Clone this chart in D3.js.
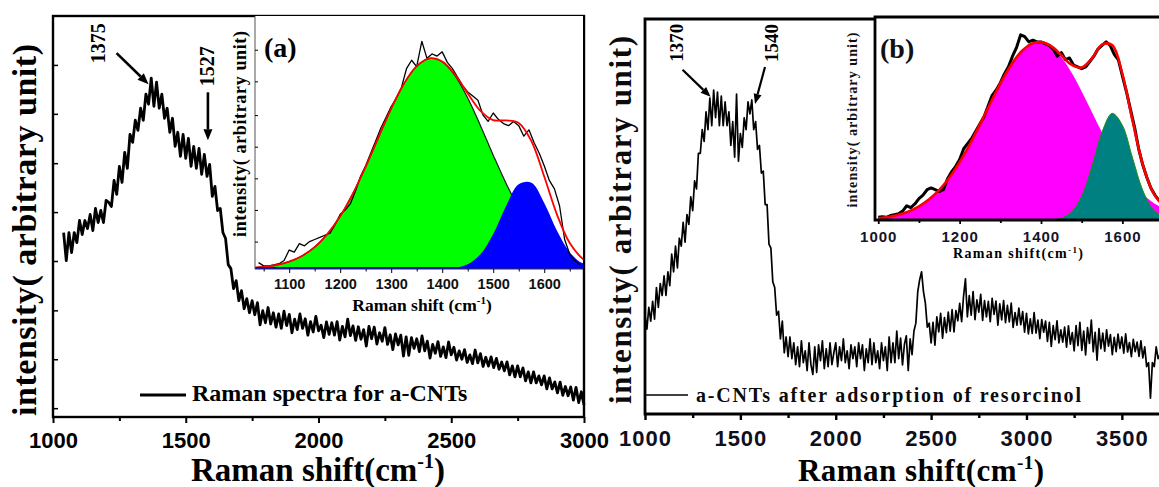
<!DOCTYPE html>
<html>
<head>
<meta charset="utf-8">
<script src="https://cdn.jsdelivr.net/npm/d3@7"></script>
<style>
  body { margin: 0; background: #fff; }
  svg { display: block; }
</style>
</head>
<body>
<svg id="chart" width="1159" height="487"></svg>
<script>
// ---------- Raman spectrum of a-CNTs (left panel), sampled every 10 cm-1 from 1040 ----------
const specAStart = 1040, specAStep = 10;
const specAValues = [
  46, 39, 46, 41, 46, 43.5, 49, 45.5, 49, 47,
  50.5, 46.5, 52, 48.5, 51.5, 48.5, 54, 53.5, 52.5, 59,
  55.5, 62.5, 58.5, 66, 62, 70.5, 68.5, 74, 71.5, 77,
  74, 80.5, 78, 84.5, 77.5, 83.5, 77, 80.5, 74.5, 77,
  71, 74.5, 67.5, 71, 65, 70.5, 64.5, 69.5, 62.5, 67.5,
  62, 67, 60.5, 65.5, 60, 63, 55, 57.5, 51.5, 52,
  46, 44.5, 38, 37, 32, 34, 29, 31.5, 27, 29.5,
  26, 29, 25.5, 28.5, 23, 26.5, 23.5, 27.3, 23.2, 26,
  22.4, 25.7, 22.1, 26.4, 22.8, 25.6, 21, 24.4, 21.8, 25.7,
  22.1, 24.5, 20.4, 23.8, 21.2, 25.1, 21.5, 22.9, 19.8, 23.7,
  20.6, 23.5, 20.4, 23.8, 19.2, 22.6, 20, 24.4, 20.3, 22.7,
  19.1, 22.5, 19.4, 21.8, 17.7, 22.6, 19.5, 22.4, 18.2, 21,
  18.9, 22.3, 18.1, 20.5, 16.8, 20.7, 18, 20.4, 15.2, 20,
  15.4, 19.8, 17.1, 19.5, 16.3, 20.2, 16.5, 18.9, 14.7, 18.1,
  15.9, 18.8, 15.1, 17.5, 14.8, 18.7, 15.5, 17.4, 14.2, 16.5,
  14.4, 16.8, 13.6, 15.5, 13.3, 16.7, 13.5, 15.8, 12.6, 14.9,
  12.7, 15, 12.3, 14.6, 11.9, 13.7, 11.5, 13.75, 10.5, 12.75,
  10, 12.75, 10, 12.25, 9, 11.25, 8.5, 11.25, 8.5, 10.25,
  8, 10.25, 7, 9.75, 7, 8.75, 6, 8.7, 5.4, 7.6,
  5.3, 7.5, 4.2, 7.4, 3.6, 6.3, 3
];

// ---------- Raman spectrum after resorcinol adsorption (right panel), every 10 cm-1 from 1000 ----------
const specBStart = 1000, specBStep = 10;
const specBValues = [
  25, 21.5, 27, 23.5, 28.5, 24, 32, 27, 33, 30,
  35, 30, 36, 32.5, 40.5, 36, 42.5, 37, 44.5, 42.5,
  48.5, 43.5, 50.5, 48, 55, 51.5, 59, 57, 66, 66,
  72, 69, 76.5, 72, 80, 73, 82, 75, 81.5, 73,
  80.5, 73, 79, 73, 76.5, 68, 74, 65, 81, 64,
  71, 67.5, 75, 72, 79, 76, 79.5, 72, 74, 67,
  68, 61, 61.5, 53, 53, 43, 42, 33.5, 32, 25,
  26, 19, 23.5, 15.5, 19.5, 14.5, 19.5, 14, 18, 12.5,
  17, 12, 18.5, 13, 16, 11, 18, 12.5, 10, 17,
  10.5, 17.5, 13.5, 18.5, 11.5, 16.5, 12, 18, 12.5, 15.5,
  18, 12, 17, 13.5, 19, 13, 16, 11.5, 17.5, 14,
  17, 12, 18, 14, 17.5, 11, 16.5, 13, 19, 12.5,
  18, 13, 16, 11.5, 18, 13.5, 17, 11, 19.5, 13,
  18, 13, 21, 14, 19.2, 12.4, 17.6, 19.8, 11, 19,
  15, 21, 23, 31, 34, 36, 31, 28, 22, 23,
  18, 23.2, 17.4, 24.6, 20.8, 25.5, 19.2, 24.4, 20.6, 25.8,
  21, 26.4, 20.8, 26.2, 23.6, 28, 23.4, 29.8, 34.2, 24.6,
  30, 25, 31, 23.9, 28.9, 25.8, 30.3, 23.7, 28.7, 24.6,
  28.5, 23.4, 29.3, 25.2, 28.6, 22.5, 27.9, 23.8, 28.7, 23.1,
  27.5, 23.3, 28.1, 21.9, 25.7, 22.5, 26.8, 22.6, 25.9, 20.7,
  25.5, 20.3, 24.1, 20.4, 25.7, 20.5, 23.8, 19.1, 23.9, 20.7,
  23.5, 18.4, 23.2, 17.1, 22.4, 18.8, 23.6, 18, 21.3, 18.2,
  22, 16.9, 22.3, 17.7, 20.6, 16, 22.4, 17.3, 23.2, 16.1,
  21, 14.95, 21.9, 17.85, 23.8, 15.75, 20.7, 13.65, 21.6, 16.55,
  20.5, 15.9, 21.3, 17.2, 20.1, 15, 19.4, 15.8, 20.2, 16.6,
  19.5, 15.4, 20.3, 15.7, 18.1, 14.5, 18.9, 15.8, 18.2, 14.6,
  18.5, 14.2, 17, 12, 13, 4, 13, 12, 17, 14, 15
];

// ---------- Inset (a): D/G band deconvolution ----------
const insetARawStart = 1040, insetARawStep = 10;
const insetARaw = [
  3, 1.5, 1.5, 2, 2.5, 4, 9, 8, 12, 11,
  13, 14, 15, 16, 17, 21, 26, 28, 31, 37,
  44, 49, 55, 61, 67, 72, 77, 81, 86, 95,
  99, 96, 108, 100, 102, 101, 103, 98, 95, 91,
  87, 84, 82, 80, 73, 70, 74, 71, 69, 68,
  70, 68, 63, 66, 60, 55, 49, 42, 38, 30,
  14, 7, 4, 2
];
const insetAFitStart = 1025, insetAFitStep = 25;
const insetADBand = [0.5, 1.0, 1.9, 3.5, 6.2, 10.4, 16.6, 25.0, 35.8, 48.6, 62.4, 76.1, 87.9, 96.2,
  99.9, 98.3, 91.7, 81.1, 68.0, 54.0, 40.7, 29.1, 19.7, 12.6, 7.7, 4.4, 2.4, 1.3];
const insetAGBand = [0, 0, 0, 0, 0, 0, 0, 0, 0, 0, 0, 0, 0, 0, 0,
  0.1, 0.5, 2.2, 7.0, 16.6, 29.8, 40.2, 40.9, 31.3, 18.1, 7.9, 2.6, 0.6];
const insetASum = [0.5, 1.0, 1.9, 3.5, 6.2, 10.4, 16.6, 25.0, 35.8, 48.6, 62.4, 76.1, 87.9, 96.2,
  99.9, 98.4, 92.2, 83.3, 75.0, 70.6, 70.5, 69.3, 60.6, 43.9, 25.8, 12.3, 5.0, 1.9];

// ---------- Inset (b): deconvolution after adsorption ----------
const insetBRawStart = 1000, insetBRawStep = 10;
const insetBRaw = [
  1.5, 1.8, 1.5, 2.5, 3, 3.5, 5, 8, 7, 9,
  12, 14, 17, 18, 17, 16, 17, 23, 27, 30,
  34, 40, 43, 46, 50, 54, 58, 64, 70, 73,
  77, 82, 86, 92, 97, 104, 103, 100, 101, 100,
  100, 99, 98, 96, 92, 94, 90, 91, 87, 86,
  85, 86, 89, 92, 96, 98, 100, 98, 93, 90,
  81, 72, 62, 52, 40, 31, 24, 18, 14, 11
];
const insetBFitStart = 1000, insetBFitStep = 25;
const insetBDBand = [1.0, 1.7, 3.0, 4.8, 7.6, 11.6, 16.9, 23.9, 32.5, 42.5, 53.7, 65.3, 76.6, 86.5,
  94.2, 98.8, 99.9, 97.4, 91.4, 82.8, 72.2, 60.7, 49.1, 38.3, 28.8, 20.9, 14.6, 9.8, 6.4];
const insetBGStart = 1425;
const insetBGBand = [0.2, 1.1, 4.4, 13.4, 30.0, 49.4, 59.9, 53.2, 34.8, 16.7, 5.9, 1.5];
const insetBSum = [1.0, 1.7, 3.0, 4.8, 7.6, 11.6, 16.9, 23.9, 32.5, 42.5, 53.7, 65.3, 76.6, 86.5,
  94.2, 98.8, 99.9, 97.6, 92.5, 87.2, 85.6, 90.7, 98.5, 98.2, 82.0, 55.7, 31.3, 15.7, 7.9];

// ---------- Tick values ----------
const mainAMajor = [1000, 1500, 2000, 2500, 3000];
const mainAMinor = [1250, 1750, 2250, 2750];
const mainAYTicks = [2.2, 14.4, 26.6, 38.9, 51.1, 63.3, 75.6, 87.8];
const mainBMajor = [1000, 1500, 2000, 2500, 3000, 3500];
const mainBMinor = [1250, 1750, 2250, 2750, 3250];
const insetAMajor = [1100, 1200, 1300, 1400, 1500, 1600];
const insetAMinor = [1050, 1150, 1250, 1350, 1450, 1550, 1650];
const insetAYTicks = [13, 28, 43, 58, 73, 89, 104];
const insetBMajor = [1000, 1200, 1400, 1600];
const insetBMinor = [1100, 1300, 1500];

// ---------- Peak annotations ----------
const peaksA = [{ label: "1375", x: 1375, v: 83 }, { label: "1527", x: 1527, v: 69 }];
const peaksB = [{ label: "1370", x: 1370, v: 80.3 }, { label: "1540", x: 1540, v: 78.5 }];

// ---------- helpers ----------
const serif = "'Liberation Serif','Times New Roman',Times,serif";
const sans = "'Liberation Sans',Arial,Helvetica,sans-serif";
const svg = d3.select("#chart");

const series = (start, step, vals) => vals.map((v, i) => [start + i * step, v]);

function styleAxis(g, size, color, lineW, spacing) {
  g.select(".domain").remove();
  g.selectAll(".tick line").attr("stroke", "#000").attr("stroke-width", lineW);
  g.selectAll(".tick text")
    .attr("font-family", sans).attr("font-size", size).attr("font-weight", "bold")
    .attr("fill", color).attr("letter-spacing", spacing || 0);
}

function arrow(g, x1, y1, x2, y2, w, hl, hw) {
  const a = Math.atan2(y2 - y1, x2 - x1);
  const bx = x2 - hl * Math.cos(a), by = y2 - hl * Math.sin(a);
  g.append("line").attr("x1", x1).attr("y1", y1).attr("x2", bx).attr("y2", by)
    .attr("stroke", "#000").attr("stroke-width", w);
  const px = -Math.sin(a) * hw / 2, py = Math.cos(a) * hw / 2;
  g.append("path").attr("d", `M${x2},${y2}L${bx + px},${by + py}L${bx - px},${by - py}Z`).attr("fill", "#000");
}

function label(g, x, y, txt, size, opts = {}) {
  const t = g.append("text")
    .attr("font-family", serif).attr("font-weight", "bold").attr("font-size", size)
    .attr("fill", opts.fill || "#000")
    .attr("text-anchor", opts.anchor || "middle");
  if (opts.rotate) {
    t.attr("transform", `translate(${x},${y}) rotate(-90)`).attr("dominant-baseline", "central");
  } else {
    t.attr("x", x).attr("y", y);
  }
  if (opts.len) t.attr("textLength", opts.len).attr("lengthAdjust", "spacing");
  t.text(txt);
  return t;
}

function shiftTitle(g, x, y, size, supSize, supText, len, spaceBeforeParen) {
  const t = g.append("text").attr("x", x).attr("y", y)
    .attr("font-family", serif).attr("font-weight", "bold").attr("font-size", size)
    .attr("text-anchor", "middle");
  if (len) t.attr("textLength", len).attr("lengthAdjust", "spacing");
  t.append("tspan").text(spaceBeforeParen ? "Raman shift (cm" : "Raman shift(cm");
  t.append("tspan").attr("dy", -size * 0.38).attr("font-size", supSize).text(supText);
  t.append("tspan").attr("dy", size * 0.38).text(")");
  return t;
}

// ================= LEFT PANEL =================
const xL = d3.scaleLinear().domain([1000, 3000]).range([53, 584]);
const yL = d3.scaleLinear().domain([0, 100]).range([417, 16]);
const gL = svg.append("g");

gL.append("path")
  .datum(series(specAStart, specAStep, specAValues))
  .attr("d", d3.line().x(d => xL(d[0])).y(d => yL(d[1])))
  .attr("fill", "none").attr("stroke", "#000").attr("stroke-width", 2.8)
  .attr("stroke-linejoin", "round");

gL.append("g").attr("transform", "translate(0,417)")
  .call(d3.axisBottom(xL).tickValues(mainAMajor).tickSize(6).tickPadding(9).tickFormat(d3.format("d")))
  .call(g => styleAxis(g, 22, "#000", 2));
gL.append("g").attr("transform", "translate(0,417)")
  .call(d3.axisBottom(xL).tickValues(mainAMinor).tickSize(4).tickFormat(""))
  .call(g => styleAxis(g, 22, "#000", 2));
gL.append("g").attr("transform", "translate(53,0)")
  .call(d3.axisLeft(yL).tickValues(mainAYTicks).tickSize(-5).tickFormat(""))
  .call(g => styleAxis(g, 10, "#000", 1.5));

gL.append("rect").attr("x", 53).attr("y", 16).attr("width", 531).attr("height", 401)
  .attr("fill", "none").attr("stroke", "#000").attr("stroke-width", 2.4);

// legend
gL.append("line").attr("x1", 140).attr("x2", 186).attr("y1", 395).attr("y2", 395)
  .attr("stroke", "#000").attr("stroke-width", 3);
label(gL, 192, 401, "Raman spectra for a-CNTs", 24, { anchor: "start" });

// axis titles
label(gL, 24, 230, "intensity( arbitrary unit)", 34, { rotate: true, len: 372 });
shiftTitle(gL, 318, 481, 33, 20, "-1", null, false);

// peak annotations
peaksA.forEach((p, i) => {
  const tx = xL(p.x) + (i === 0 ? -4 : 15), ty = yL(p.v);
  if (i === 0) {
    arrow(gL, tx - 32, ty - 31, tx, ty, 2.6, 11, 9);
    label(gL, tx - 51, ty - 41, p.label, 20, { rotate: true });
  } else {
    arrow(gL, tx, ty - 48, tx, ty, 2.6, 11, 9);
    label(gL, tx - 1, ty - 74, p.label, 20, { rotate: true });
  }
});

// ---------- inset (a) ----------
const xA = d3.scaleLinear().domain([1033, 1676]).range([255, 583]);
const yA = d3.scaleLinear().domain([0, 120]).range([269, 16]);
const gA = svg.append("g");
gA.append("rect").attr("x", 255).attr("y", 16).attr("width", 328).attr("height", 253).attr("fill", "#fff");
svg.append("clipPath").attr("id", "clipA").append("rect")
  .attr("x", 255).attr("y", 16).attr("width", 328).attr("height", 253);
const pA = gA.append("g").attr("clip-path", "url(#clipA)");

const fitGridA = insetADBand.map((_, i) => insetAFitStart + i * insetAFitStep);
const areaA = d3.area().x(d => xA(d[0])).y0(yA(0)).y1(d => yA(d[1])).curve(d3.curveCatmullRom);
const lineA = d3.line().x(d => xA(d[0])).y(d => yA(d[1])).curve(d3.curveCatmullRom);

const dA = fitGridA.map((x, i) => [x, insetADBand[i]]);
const gAband = fitGridA.map((x, i) => [x, insetAGBand[i]]);
const sA = fitGridA.map((x, i) => [x, insetASum[i]]);

pA.append("path").datum(dA).attr("d", areaA).attr("fill", "#00ff00");
pA.append("path").datum(dA).attr("d", lineA)
  .attr("fill", "none").attr("stroke", "#1a1a1a").attr("stroke-width", 1.2);
pA.append("path").datum(gAband).attr("d", areaA).attr("fill", "#0000ff");
pA.append("path").datum(series(insetARawStart, insetARawStep, insetARaw))
  .attr("d", d3.line().x(d => xA(d[0])).y(d => yA(d[1])))
  .attr("fill", "none").attr("stroke", "#000").attr("stroke-width", 1.3).attr("stroke-linejoin", "round");
pA.append("path").datum(sA).attr("d", lineA)
  .attr("fill", "none").attr("stroke", "#ff0000").attr("stroke-width", 1.8);
pA.append("line").attr("x1", 255).attr("x2", 583).attr("y1", yA(0) - 1).attr("y2", yA(0) - 1)
  .attr("stroke", "#0000ff").attr("stroke-width", 2);

gA.append("line").attr("x1", 255).attr("x2", 255).attr("y1", 16).attr("y2", 269)
  .attr("stroke", "#555").attr("stroke-width", 1);
gA.append("line").attr("x1", 255).attr("x2", 583).attr("y1", 269).attr("y2", 269)
  .attr("stroke", "#333").attr("stroke-width", 1);
gA.append("g").attr("transform", "translate(0,269)")
  .call(d3.axisBottom(xA).tickValues(insetAMajor).tickSize(4).tickPadding(6).tickFormat(d3.format("d")))
  .call(g => styleAxis(g, 14.5, "#111", 1));
gA.append("g").attr("transform", "translate(0,269)")
  .call(d3.axisBottom(xA).tickValues(insetAMinor).tickSize(2.5).tickFormat(""))
  .call(g => styleAxis(g, 14, "#111", 1));
gA.append("g").attr("transform", "translate(255,0)")
  .call(d3.axisLeft(yA).tickValues(insetAYTicks).tickSize(-3).tickFormat(""))
  .call(g => styleAxis(g, 10, "#555", 1));

label(gA, 264, 57, "(a)", 28, { anchor: "start" });
label(gA, 240, 134, "intensity( arbitrary unit)", 18, { rotate: true, len: 206 });
shiftTitle(gA, 422, 311, 17.5, 11, "-1", null, true);

// ================= RIGHT PANEL =================
const xR = d3.scaleLinear().domain([1000, 3700]).range([645, 1160]);
const yR = d3.scaleLinear().domain([0, 100]).range([414, 19]);
const gR = svg.append("g");

gR.append("path")
  .datum(series(specBStart, specBStep, specBValues))
  .attr("d", d3.line().x(d => xR(d[0])).y(d => yR(d[1])))
  .attr("fill", "none").attr("stroke", "#000").attr("stroke-width", 1.7)
  .attr("stroke-linejoin", "round");

gR.append("g").attr("transform", "translate(0,414)")
  .call(d3.axisBottom(xR).tickValues(mainBMajor).tickSize(6).tickPadding(10).tickFormat(d3.format("d")))
  .call(g => styleAxis(g, 22, "#10101c", 2.4, 1));
gR.append("g").attr("transform", "translate(0,414)")
  .call(d3.axisBottom(xR).tickValues(mainBMinor).tickSize(4).tickFormat(""))
  .call(g => styleAxis(g, 22, "#000", 2.4));

gR.append("path").attr("d", "M876,19H645V414H1159")
  .attr("fill", "none").attr("stroke", "#000").attr("stroke-width", 2.8);

// legend
gR.append("line").attr("x1", 646).attr("x2", 688).attr("y1", 395).attr("y2", 395)
  .attr("stroke", "#000").attr("stroke-width", 1.6);
label(gR, 696, 402, "a-CNTs after adsorption of resorcinol", 20, { anchor: "start", len: 385, fill: "#0b0b0b" });

// axis titles
label(gR, 620, 220, "intensity( arbitrary unit)", 31, { rotate: true, len: 368, fill: "#0b0b0b" });
shiftTitle(gR, 921, 481, 31, 19, "-1", 246, false);

// peak annotations
peaksB.forEach((p, i) => {
  const tx = xR(p.x) + (i === 0 ? -5 : 7), ty = yR(p.v);
  if (i === 0) {
    arrow(gR, tx - 28, ty - 27, tx, ty, 2.2, 10, 8);
    label(gR, tx - 34, ty - 54, p.label, 19, { rotate: true });
  } else {
    arrow(gR, tx + 10, ty - 37, tx, ty, 2.2, 10, 8);
    label(gR, tx + 16, ty - 61, p.label, 19, { rotate: true });
  }
});

// ---------- inset (b) ----------
const xB = d3.scaleLinear().domain([992, 1690]).range([875, 1159]);
const yB = d3.scaleLinear().domain([0, 114]).range([220, 17]);
const gB = svg.append("g");
gB.append("rect").attr("x", 875).attr("y", 17).attr("width", 284).attr("height", 203).attr("fill", "#fff");
svg.append("clipPath").attr("id", "clipB").append("rect")
  .attr("x", 875).attr("y", 17).attr("width", 284).attr("height", 203);
const pB = gB.append("g").attr("clip-path", "url(#clipB)");

const areaB = d3.area().x(d => xB(d[0])).y0(yB(0)).y1(d => yB(d[1])).curve(d3.curveCatmullRom);
pB.append("path").datum(series(insetBFitStart, insetBFitStep, insetBDBand)).attr("d", areaB).attr("fill", "#ff00ff");
pB.append("path").datum(series(insetBGStart, insetBFitStep, insetBGBand)).attr("d", areaB)
  .attr("fill", "#008080").attr("stroke", "#1c8f1c").attr("stroke-width", 1);
pB.append("path").datum(series(insetBRawStart, insetBRawStep, insetBRaw))
  .attr("d", d3.line().x(d => xB(d[0])).y(d => yB(d[1])))
  .attr("fill", "none").attr("stroke", "#000").attr("stroke-width", 3).attr("stroke-linejoin", "round");
pB.append("path").datum(series(insetBFitStart, insetBFitStep, insetBSum))
  .attr("d", d3.line().x(d => xB(d[0])).y(d => yB(d[1])).curve(d3.curveCatmullRom))
  .attr("fill", "none").attr("stroke", "#ff0000").attr("stroke-width", 2.6);

gB.append("g").attr("transform", "translate(0,220)")
  .call(d3.axisBottom(xB).tickValues(insetBMajor).tickSize(4).tickPadding(7).tickFormat(d3.format("d")))
  .call(g => styleAxis(g, 15, "#14142a", 1.8, 1));
gB.append("g").attr("transform", "translate(0,220)")
  .call(d3.axisBottom(xB).tickValues(insetBMinor).tickSize(3).tickFormat(""))
  .call(g => styleAxis(g, 15, "#000", 1.8));

gB.append("path").attr("d", "M1159,17H875V220H1159")
  .attr("fill", "none").attr("stroke", "#000").attr("stroke-width", 2.8);

label(gB, 880, 58, "(b)", 28, { anchor: "start", fill: "#111" });
label(gB, 852, 120, "intensity( arbitrary unit)", 14, { rotate: true, len: 175, fill: "#111" });
shiftTitle(gB, 1018, 258, 14, 9, "-1", 130, false);
</script>
</body>
</html>
